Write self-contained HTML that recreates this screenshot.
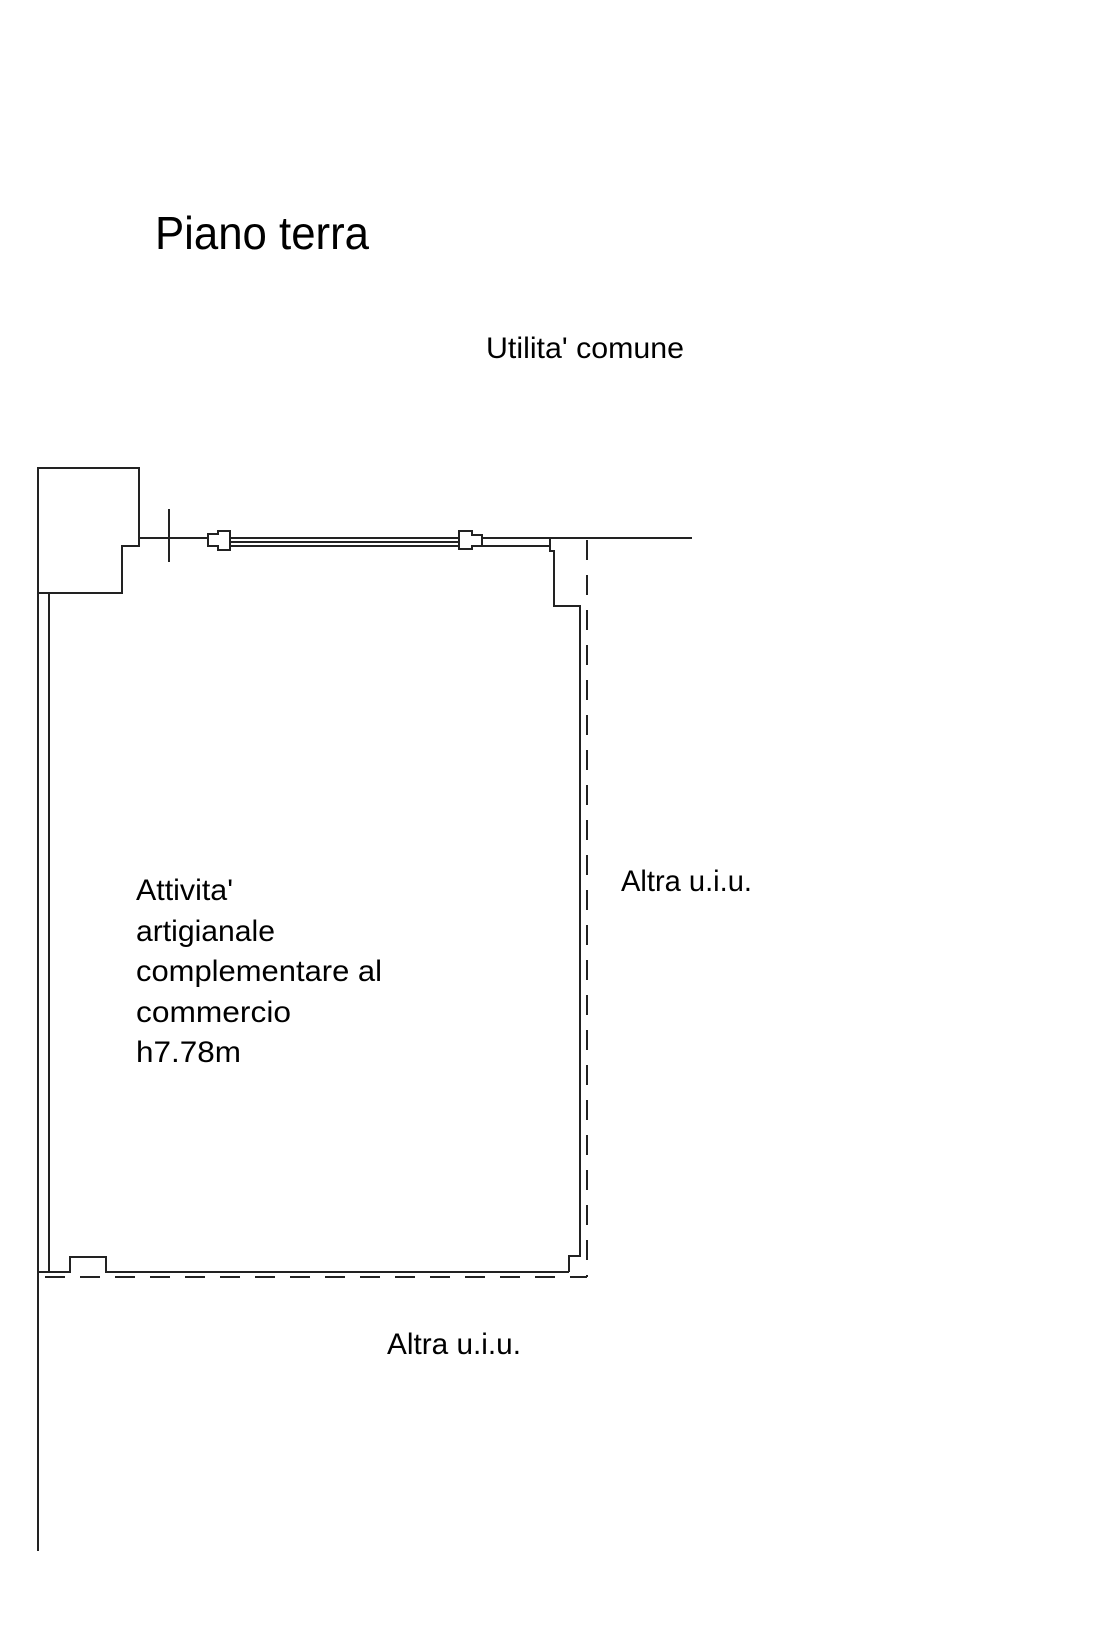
<!DOCTYPE html>
<html><head><meta charset="utf-8"><style>
html,body{margin:0;padding:0;background:#fff;width:1107px;height:1626px;overflow:hidden}
svg{display:block}
text{font-family:"Liberation Sans",Arial,sans-serif;fill:#000}
</style></head><body>
<svg width="1107" height="1626" viewBox="0 0 1107 1626" xmlns="http://www.w3.org/2000/svg">
<g fill="none" stroke="#222" stroke-width="2">
<!-- top-left box -->
<polyline points="38,593 38,468 139,468 139,546 122,546 122,593 38,593"/>
<!-- left outer line -->
<line x1="38" y1="593" x2="38" y2="1551"/>
<!-- inner left wall -->
<line x1="49" y1="593" x2="49" y2="1272"/>
<!-- top wall line -->
<line x1="139" y1="538" x2="208" y2="538"/>
<line x1="482" y1="538" x2="692" y2="538"/>
<line x1="169" y1="509" x2="169" y2="562"/>
<!-- window -->
<line x1="230" y1="538" x2="459" y2="538"/>
<line x1="230" y1="542" x2="459" y2="542"/>
<line x1="230" y1="546" x2="459" y2="546"/>
<polygon points="208,534 218,534 218,531 230,531 230,550 218,550 218,546 208,546"/>
<polygon points="459,531 472,531 472,535 482,535 482,546 472,546 472,549 459,549"/>
<line x1="482" y1="546" x2="550" y2="546"/>
<!-- right wall -->
<polyline points="550,538 550,551 554,551 554,606 580,606 580,1256 569,1256 569,1272"/>
<!-- bottom wall -->
<polyline points="38,1272 70,1272 70,1257 106,1257 106,1272 569,1272"/>
</g>
<g fill="none" stroke="#222" stroke-width="2" stroke-dasharray="20,15">
<line x1="587" y1="540" x2="587" y2="1277"/>
<line x1="45" y1="1277" x2="587" y2="1277"/>
</g>
<text x="155" y="249" font-size="46" textLength="214" lengthAdjust="spacingAndGlyphs">Piano terra</text>
<text x="486" y="358" font-size="30" textLength="198" lengthAdjust="spacingAndGlyphs">Utilita' comune</text>
<text x="621" y="891" font-size="30" textLength="131" lengthAdjust="spacingAndGlyphs">Altra u.i.u.</text>
<text x="387" y="1354" font-size="30" textLength="134" lengthAdjust="spacingAndGlyphs">Altra u.i.u.</text>
<g font-size="30">
<text x="136" y="900" textLength="97" lengthAdjust="spacingAndGlyphs">Attivita'</text>
<text x="136" y="941" textLength="139" lengthAdjust="spacingAndGlyphs">artigianale</text>
<text x="136" y="981" textLength="246" lengthAdjust="spacingAndGlyphs">complementare al</text>
<text x="136" y="1022" textLength="155" lengthAdjust="spacingAndGlyphs">commercio</text>
<text x="136" y="1062" textLength="105" lengthAdjust="spacingAndGlyphs">h7.78m</text>
</g>
</svg>
</body></html>
